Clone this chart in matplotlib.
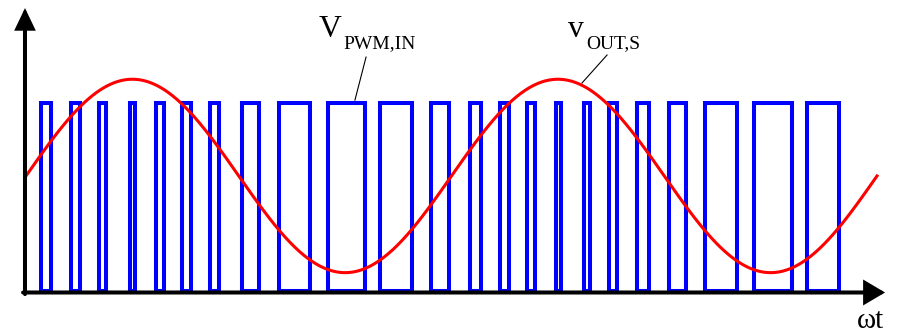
import numpy as np
import matplotlib
matplotlib.use("Agg")
import matplotlib.pyplot as plt
from matplotlib.patches import FancyArrowPatch

# PWM pulse edges (electrical angle, degrees): rising and falling edges
pulse_on = [12.7, 38.1, 61.8, 88.0, 110.0, 132.0, 155.7, 182.7, 214.1, 255.5,
            299.5, 342.7, 375.6, 401.0, 423.9, 448.4, 472.1, 493.3, 516.9,
            544.0, 574.5, 615.9, 660.8]
pulse_off = [21.2, 45.7, 67.7, 92.2, 116.8, 139.6, 163.3, 197.1, 240.3, 286.8,
             326.6, 357.9, 385.0, 408.6, 430.6, 452.6, 477.2, 500.0, 527.1,
             558.4, 601.5, 648.1, 687.8]
pwm_low, pwm_high = 0.0, 1.0

# Filtered output: two full periods of a sinusoid
sine_offset = 0.61
sine_amplitude = 0.515
sine_end_deg = 720.0

fig = plt.figure(figsize=(8.99, 3.33), dpi=100)
ax = fig.add_axes([0, 0, 1, 1])
ax.set_xlim(-22.0, 738.6)
ax.set_ylim(-0.2263, 1.5469)
ax.axis("off")

# PWM pulses as closed rectangles
for x0, x1 in zip(pulse_on, pulse_off):
    ax.plot([x0, x0, x1, x1, x0], [pwm_low, pwm_high, pwm_high, pwm_low, pwm_low],
            color="#0000FF", lw=2.9, solid_joinstyle="miter", zorder=2)

# Output sine wave
theta = np.linspace(0, sine_end_deg, 1000)
ax.plot(theta, sine_offset + sine_amplitude * np.sin(np.radians(theta)),
        color="#FF0000", lw=2.2, zorder=3)

# Axes with arrow heads
ax_y = -0.0106
ax_x = -0.85
x_axis = FancyArrowPatch((-2.5, ax_y), (726.8, ax_y),
                         arrowstyle="-|>,head_length=11.5,head_width=6.8",
                         mutation_scale=1, lw=2.9, color="black",
                         shrinkA=0, shrinkB=0, zorder=4, joinstyle="miter")
y_axis = FancyArrowPatch((ax_x, -0.019), (ax_x, 1.504),
                         arrowstyle="-|>,head_length=11.5,head_width=5.5",
                         mutation_scale=1, lw=2.9, color="black",
                         shrinkA=0, shrinkB=0, zorder=4, joinstyle="miter")
ax.add_patch(x_axis)
ax.add_patch(y_axis)

serif = "Liberation Serif"

# Signal labels with leader lines
ax.text(247.9, 1.350, "V", family=serif, fontsize=22.8, va="baseline", ha="left")
ax.text(268.2, 1.291, "PWM,IN", family=serif, fontsize=14, va="baseline", ha="left")
ax.plot([287.7, 278.3], [1.243, 1.014], color="black", lw=0.8, zorder=5)

ax.text(458.6, 1.350, "v", family=serif, fontsize=22.8, va="baseline", ha="left")
ax.text(473.8, 1.291, "OUT,S", family=serif, fontsize=14, va="baseline", ha="left")
ax.plot([491.6, 470.4], [1.254, 1.105], color="black", lw=0.8, zorder=5)

ax.text(703.1, -0.1997, "ωt", family=serif, fontsize=21, va="baseline", ha="left")

fig.savefig("out.png", dpi=100)
